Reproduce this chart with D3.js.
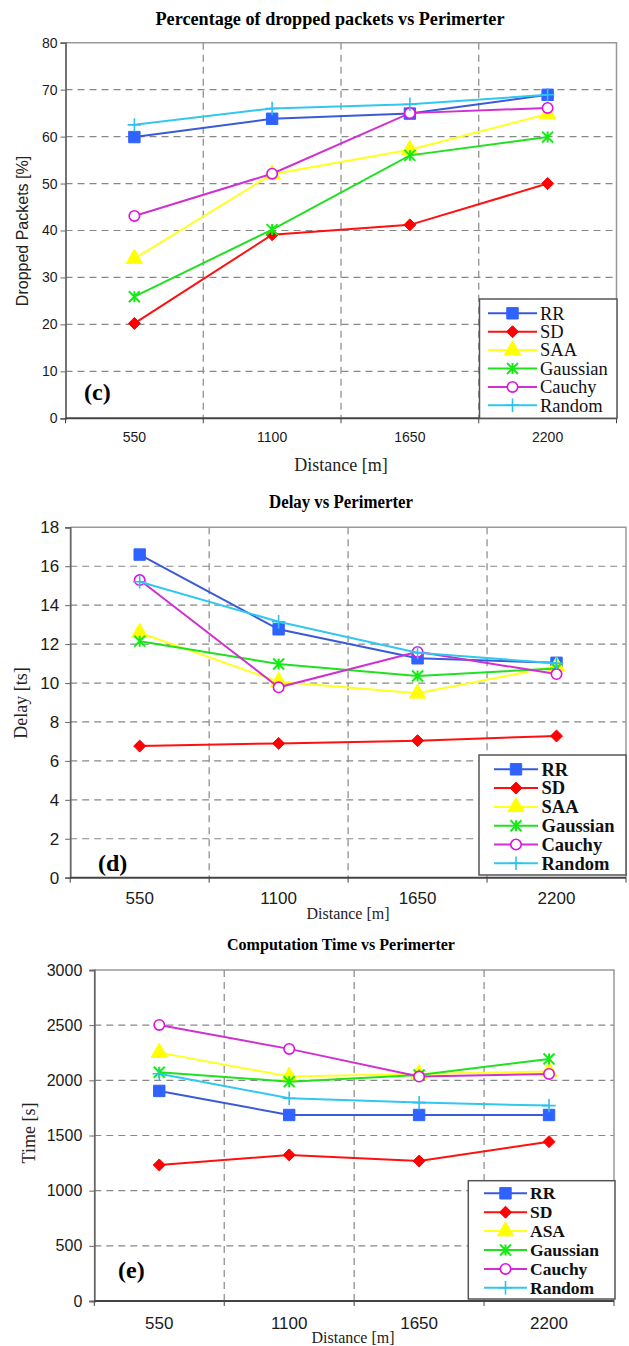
<!DOCTYPE html>
<html>
<head>
<meta charset="utf-8">
<script src="https://cdn.jsdelivr.net/npm/d3@7"></script>
<style>
  body { margin: 0; background: #fff; }
  svg { display: block; }
</style>
</head>
<body>
<div id="chart"></div>
<script>
// chart data
const distances = ["550", "1100", "1650", "2200"];

const seriesNames = ["RR", "SD", "SAA", "Gaussian", "Cauchy", "Random"];
const seriesNamesTime = ["RR", "SD", "ASA", "Gaussian", "Cauchy", "Random"];

// dropped packets [%], one row per series
const droppedPackets = [
  [59.9, 63.8, 64.9, 68.9],
  [20.2, 39.1, 41.2, 50.0],
  [34.0, 52.0, 57.2, 64.8],
  [25.9, 40.2, 56.0, 59.9],
  [43.1, 52.1, 65.0, 66.1],
  [62.5, 66.0, 66.9, 68.9]
];
const droppedTicks = [0, 10, 20, 30, 40, 50, 60, 70, 80];

// delay
const delayValues = [
  [16.6, 12.76, 11.27, 11.04],
  [6.76, 6.9, 7.04, 7.28],
  [12.58, 10.07, 9.47, 10.87],
  [12.15, 10.98, 10.36, 10.75],
  [15.29, 9.78, 11.6, 10.46],
  [15.2, 13.15, 11.56, 11.01]
];
const delayTicks = [0, 2, 4, 6, 8, 10, 12, 14, 16, 18];

// computation time [s]
const timeValues = [
  [1904, 1686, 1686, 1686],
  [1233, 1324, 1269, 1444],
  [2251, 2034, 2058, 2080],
  [2073, 1988, 2049, 2194],
  [2502, 2285, 2034, 2058],
  [2060, 1838, 1798, 1771]
];
const timeTicks = [0, 500, 1000, 1500, 2000, 2500, 3000];

window.w = 629;
window.h = 1346;

const serif = "'Liberation Serif', 'Times New Roman', serif";
const sans = "'Liberation Sans', Arial, sans-serif";

// marker shapes
const diamond = {
  draw(ctx, size) {
    const r = Math.sqrt(size) / 2 * 1.3;
    ctx.moveTo(0, -r); ctx.lineTo(r, 0); ctx.lineTo(0, r); ctx.lineTo(-r, 0); ctx.closePath();
  }
};
const asterisk = {
  draw(ctx, size) {
    const r = Math.sqrt(size) / 2;
    ctx.moveTo(0, -r); ctx.lineTo(0, r);
    ctx.moveTo(-r, -r); ctx.lineTo(r, r);
    ctx.moveTo(-r, r); ctx.lineTo(r, -r);
  }
};
const plus = {
  draw(ctx, size) {
    const r = Math.sqrt(size) / 2;
    ctx.moveTo(0, -r); ctx.lineTo(0, r);
    ctx.moveTo(-r, 0); ctx.lineTo(r, 0);
  }
};

const styles = [
  {line: "#3a5ad8", fill: "#2f62ff", stroke: "#2f62ff", type: d3.symbolSquare, size: 130},
  {line: "#ff1010", fill: "#ff0000", stroke: "#ff0000", type: diamond, size: 85},
  {line: "#ffff20", fill: "#ffff00", stroke: "#ffff00", type: d3.symbolTriangle, size: 115},
  {line: "#20e020", fill: "none", stroke: "#10ee10", type: asterisk, size: 120, sw: 2},
  {line: "#d030d0", fill: "#fff", stroke: "#e010e0", type: d3.symbolCircle, size: 85, sw: 1.6},
  {line: "#30c8f0", fill: "none", stroke: "#30c0f0", type: plus, size: 180, sw: 1.6}
];

const chart = d3.select("#chart")
  .append("svg")
  .attr("width", w)
  .attr("height", h);

chart.append("rect").attr("width", w).attr("height", h).attr("fill", "#fff");

function drawPanel(cfg) {
  const g = chart.append("g");

  const xScale = d3.scaleBand()
    .domain(distances)
    .range([cfg.left, cfg.right]);
  const yScale = d3.scaleLinear()
    .domain([cfg.ticks[0], cfg.ticks[cfg.ticks.length - 1]])
    .range([cfg.bottom, cfg.top]);
  const cx = d => xScale(d) + xScale.bandwidth() / 2;

  // horizontal grid
  g.selectAll(".hgrid")
    .data(cfg.ticks.slice(1, -1))
    .enter().append("line")
    .attr("x1", cfg.left).attr("x2", cfg.right)
    .attr("y1", d => yScale(d)).attr("y2", d => yScale(d))
    .attr("stroke", "#888").attr("stroke-width", 1.2)
    .attr("stroke-dasharray", "7,5");

  // vertical grid at category boundaries
  g.selectAll(".vgrid")
    .data(distances.slice(1))
    .enter().append("line")
    .attr("x1", d => xScale(d)).attr("x2", d => xScale(d))
    .attr("y1", cfg.top).attr("y2", cfg.bottom)
    .attr("stroke", "#888").attr("stroke-width", 1.2)
    .attr("stroke-dasharray", "7,5");

  // frame top/right
  g.append("path")
    .attr("d", `M${cfg.left},${cfg.top}H${cfg.right}V${cfg.bottom}`)
    .attr("fill", "none").attr("stroke", "#999").attr("stroke-width", 1.5);

  // y axis
  const yAxis = d3.axisLeft(yScale)
    .tickValues(cfg.ticks)
    .tickSize(5)
    .tickPadding(cfg.yPad)
    .tickFormat(d3.format("d"));
  const ya = g.append("g")
    .attr("transform", "translate(" + cfg.left + ",0)")
    .call(yAxis);
  ya.select(".domain").attr("stroke", "#666").attr("stroke-width", 1.8);
  ya.selectAll(".tick line").attr("stroke", "#666");
  ya.selectAll("text")
    .attr("font-family", sans).attr("font-size", cfg.tickSize).attr("fill", "#1a1a1a");

  // x axis: ticks at band edges, labels centred
  const edges = distances.map(d => xScale(d)).concat([cfg.right]);
  g.append("line")
    .attr("x1", cfg.left).attr("x2", cfg.right)
    .attr("y1", cfg.bottom).attr("y2", cfg.bottom)
    .attr("stroke", "#444").attr("stroke-width", 2);
  g.selectAll(".xtick")
    .data(edges)
    .enter().append("line")
    .attr("x1", d => d).attr("x2", d => d)
    .attr("y1", cfg.bottom).attr("y2", cfg.bottom + 5)
    .attr("stroke", "#444");
  g.selectAll(".xlab")
    .data(distances)
    .enter().append("text")
    .attr("x", d => cx(d))
    .attr("y", cfg.xLabY)
    .attr("text-anchor", "middle")
    .attr("font-family", sans).attr("font-size", cfg.xTickSize).attr("fill", "#1a1a1a")
    .text(d => d);

  // titles
  g.append("text")
    .attr("x", cfg.titleX).attr("y", cfg.titleY)
    .attr("text-anchor", "middle")
    .attr("font-family", serif).attr("font-weight", "bold")
    .attr("font-size", cfg.titleSize)
    .attr("textLength", cfg.titleLen).attr("lengthAdjust", "spacingAndGlyphs")
    .text(cfg.title);

  g.append("text")
    .attr("x", cfg.xTitleX).attr("y", cfg.xTitleY)
    .attr("text-anchor", "middle")
    .attr("font-family", serif).attr("font-size", cfg.xTitleSize).attr("fill", "#222")
    .text("Distance [m]");

  g.append("text")
    .attr("transform", `translate(${cfg.yTitleX},${cfg.yTitleY}) rotate(-90)`)
    .attr("text-anchor", "middle")
    .attr("dy", "0.35em")
    .attr("font-family", cfg.yTitleFont).attr("font-size", cfg.yTitleSize).attr("fill", "#222")
    .text(cfg.yTitle);

  // series lines + markers
  cfg.values.forEach((vals, i) => {
    const st = styles[i];
    const pts = vals.map((v, j) => [cx(distances[j]), yScale(v)]);
    g.append("path")
      .datum(pts)
      .attr("fill", "none")
      .attr("stroke", st.line)
      .attr("stroke-width", 2)
      .attr("d", d3.line());
    g.selectAll(".m" + i)
      .data(pts)
      .enter().append("path")
      .attr("transform", d => "translate(" + d[0] + "," + d[1] + ")")
      .attr("d", d3.symbol().type(st.type).size(st.size))
      .attr("fill", st.fill)
      .attr("stroke", st.stroke)
      .attr("stroke-width", st.sw || 1);
  });

  // panel letter
  g.append("text")
    .attr("x", cfg.tagX).attr("y", cfg.tagY)
    .attr("font-family", serif).attr("font-weight", "bold").attr("font-size", 24)
    .text(cfg.tag);

  // legend
  const L = cfg.legend;
  g.append("rect")
    .attr("x", L.x0).attr("y", L.y0)
    .attr("width", L.x1 - L.x0).attr("height", L.y1 - L.y0)
    .attr("fill", "#fff").attr("stroke", "#555").attr("stroke-width", 1.5);
  cfg.names.forEach((name, i) => {
    const st = styles[i];
    const y = L.firstY + i * L.step;
    g.append("line")
      .attr("x1", L.lx0).attr("x2", L.lx1)
      .attr("y1", y).attr("y2", y)
      .attr("stroke", st.line).attr("stroke-width", 2);
    g.append("path")
      .attr("transform", "translate(" + ((L.lx0 + L.lx1) / 2) + "," + y + ")")
      .attr("d", d3.symbol().type(st.type).size(st.size))
      .attr("fill", st.fill)
      .attr("stroke", st.stroke)
      .attr("stroke-width", st.sw || 1);
    g.append("text")
      .attr("x", L.tx).attr("y", y)
      .attr("dy", "0.34em")
      .attr("font-family", serif)
      .attr("font-weight", L.bold ? "bold" : "normal")
      .attr("font-size", L.size)
      .attr("fill", "#111")
      .text(name);
  });
}

drawPanel({
  values: droppedPackets, ticks: droppedTicks, names: seriesNames,
  left: 65.5, right: 616.5, top: 42.7, bottom: 418.3,
  yPad: 3, tickSize: 14, xTickSize: 14, xLabY: 442,
  title: "Percentage of dropped packets vs Perimerter",
  titleX: 330, titleY: 25, titleSize: 18, titleLen: 349,
  xTitleX: 341, xTitleY: 471, xTitleSize: 18,
  yTitle: "Dropped Packets [%]", yTitleX: 22, yTitleY: 231, yTitleFont: sans, yTitleSize: 16,
  tag: "(c)", tagX: 84, tagY: 400,
  legend: {x0: 479.5, x1: 617, y0: 299, y1: 418.3, firstY: 313.3, step: 18.4,
           lx0: 488, lx1: 537, tx: 540, size: 18.5, bold: false}
});

drawPanel({
  values: delayValues, ticks: delayTicks, names: seriesNames,
  left: 70.2, right: 626, top: 527.3, bottom: 877.7,
  yPad: 6, tickSize: 17, xTickSize: 17, xLabY: 904,
  title: "Delay vs Perimerter",
  titleX: 341, titleY: 508, titleSize: 18, titleLen: 144,
  xTitleX: 348, xTitleY: 919, xTitleSize: 16,
  yTitle: "Delay [ts]", yTitleX: 21, yTitleY: 703, yTitleFont: serif, yTitleSize: 18,
  tag: "(d)", tagX: 98, tagY: 871,
  legend: {x0: 479, x1: 626, y0: 755, y1: 875, firstY: 769.3, step: 18.8,
           lx0: 494, lx1: 538, tx: 541.5, size: 18.5, bold: true}
});

drawPanel({
  values: timeValues, ticks: timeTicks, names: seriesNamesTime,
  left: 94.3, right: 614, top: 970, bottom: 1301,
  yPad: 7, tickSize: 16, xTickSize: 17, xLabY: 1329,
  title: "Computation Time vs Perimerter",
  titleX: 341, titleY: 950, titleSize: 17, titleLen: 228,
  xTitleX: 353, xTitleY: 1343, xTitleSize: 16,
  yTitle: "Time [s]", yTitleX: 29, yTitleY: 1133, yTitleFont: serif, yTitleSize: 18,
  tag: "(e)", tagX: 118, tagY: 1278,
  legend: {x0: 468.3, x1: 615, y0: 1180.7, y1: 1299, firstY: 1193.3, step: 18.9,
           lx0: 484, lx1: 527, tx: 530, size: 17.5, bold: true}
});
</script>
</body>
</html>
